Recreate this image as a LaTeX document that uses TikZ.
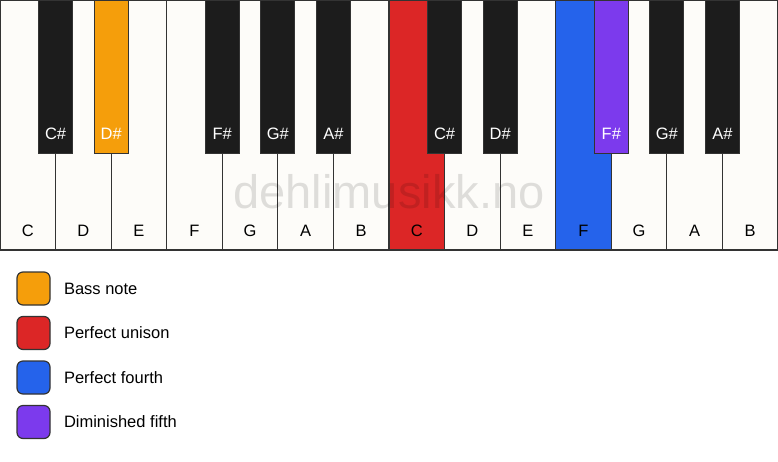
\documentclass[tikz,border=0pt]{standalone}
\usepackage{fontspec}
\setmainfont{Liberation Sans}
\usetikzlibrary{positioning}

\definecolor{keywhite}{HTML}{FDFCF9}
\definecolor{keyblack}{HTML}{1C1C1C}
\definecolor{keyline}{HTML}{333333}
\definecolor{bassorange}{HTML}{F59E0B}
\definecolor{unisonred}{HTML}{DC2626}
\definecolor{fourthblue}{HTML}{2563EB}
\definecolor{fifthpurple}{HTML}{7C3AED}

\begin{document}
\begin{tikzpicture}[x=1pt, y=-1pt,
    every node/.style={inner sep=0pt, outer sep=0pt, font=\fontsize{16.5}{19}\selectfont},
    whitekey/.style={rectangle, draw=keyline, line width=1.2pt, fill=keywhite, anchor=north west,
        minimum width=55.57pt, text height=236pt, text depth=14pt},
    blackkey/.style={rectangle, draw=keyline, line width=0.8pt, fill=keyblack, text=white, anchor=north,
        minimum width=34pt, text height=139pt, text depth=14pt},
    legendbox/.style={rectangle, rounded corners=6pt, draw=keyline, line width=1.2pt,
        minimum width=33pt, minimum height=33pt}]
            \useasboundingbox (0,0) rectangle (778,461);

            % White keys (two octaves)
            \node[whitekey] (W-1) at (0,0) {C};
            \node[whitekey] (W-2) at (55.57,0) {D};
            \node[whitekey] (W-3) at (111.14,0) {E};
            \node[whitekey] (W-4) at (166.71,0) {F};
            \node[whitekey] (W-5) at (222.29,0) {G};
            \node[whitekey] (W-6) at (277.86,0) {A};
            \node[whitekey] (W-7) at (333.43,0) {B};
            \node[whitekey, fill=unisonred] (W-8) at (389,0) {C};
            \node[whitekey] (W-9) at (444.57,0) {D};
            \node[whitekey] (W-10) at (500.14,0) {E};
            \node[whitekey, fill=fourthblue] (W-11) at (555.71,0) {F};
            \node[whitekey] (W-12) at (611.29,0) {G};
            \node[whitekey] (W-13) at (666.86,0) {A};
            \node[whitekey] (W-14) at (722.43,0) {B};

            % Black keys
            \node[blackkey] (B-1) at (55.57,0) {C\#};
            \node[blackkey, fill=bassorange] (B-2) at (111.14,0) {D\#};
            \node[blackkey] (B-3) at (222.29,0) {F\#};
            \node[blackkey] (B-4) at (277.86,0) {G\#};
            \node[blackkey] (B-5) at (333.43,0) {A\#};
            \node[blackkey] (B-6) at (444.57,0) {C\#};
            \node[blackkey] (B-7) at (500.14,0) {D\#};
            \node[blackkey, fill=fifthpurple] (B-8) at (611.29,0) {F\#};
            \node[blackkey] (B-9) at (666.86,0) {G\#};
            \node[blackkey] (B-10) at (722.43,0) {A\#};

            % Watermark
            \node[text=black, text opacity=0.12, font=\fontsize{47}{50}\selectfont] (mark) at (389,192) {dehlimusikk.no};

            % Legend
            \node[legendbox, fill=bassorange] (S-1) at (33.5,288.5) {};
            \node[legendbox, fill=unisonred] (S-2) at (33.5,333) {};
            \node[legendbox, fill=fourthblue] (S-3) at (33.5,377.5) {};
            \node[legendbox, fill=fifthpurple] (S-4) at (33.5,422) {};
            \node[right=14pt of S-1] (T-1) {Bass note};
            \node[right=14pt of S-2] (T-2) {Perfect unison};
            \node[right=14pt of S-3] (T-3) {Perfect fourth};
            \node[right=14pt of S-4] (T-4) {Diminished fifth};
        \end{tikzpicture}
\end{document}
